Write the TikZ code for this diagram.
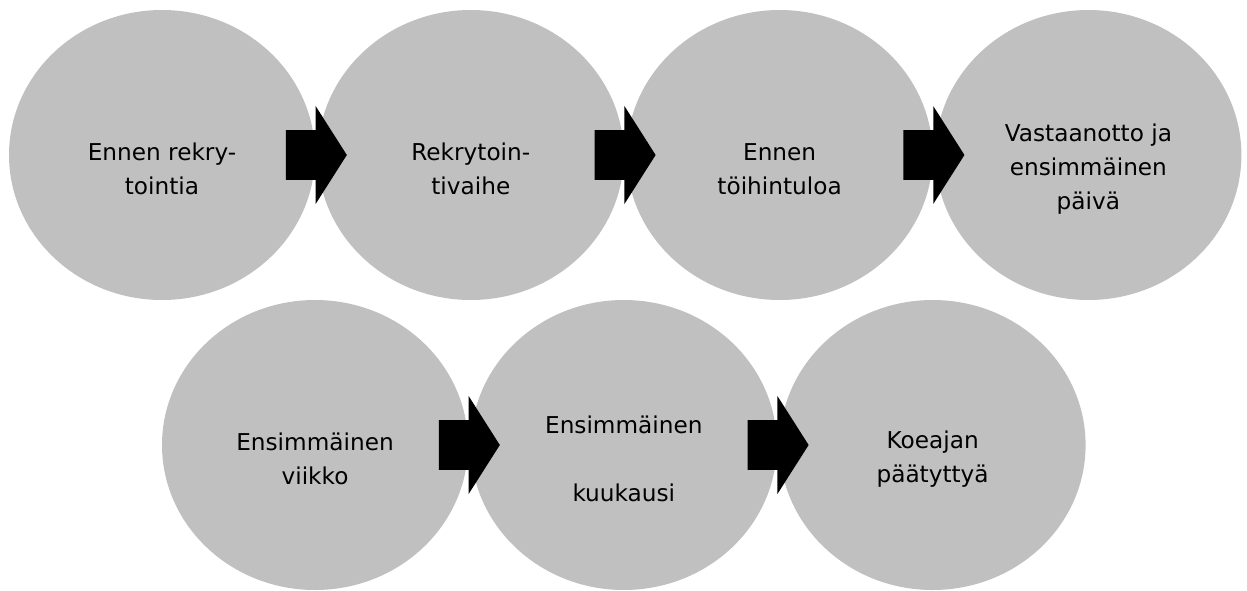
\documentclass[tikz,border=0pt]{standalone}
\usepackage{fontspec}
\setmainfont{DejaVu Sans}
\usetikzlibrary{shapes,arrows,positioning}
\definecolor{phasegray}{RGB}{192,192,192}
\tikzset{
  phasecircle/.style={ellipse, fill=phasegray, minimum width=153pt,
                      minimum height=145pt, inner sep=0pt},
  phasetext/.style={align=center, font=\fontsize{11.6}{17}\selectfont},
  phasearrow/.style={single arrow, fill=black, inner xsep=0pt,
                     inner ysep=12.25pt, xshift=-3.5pt,
                     minimum height=30.5pt, minimum width=48.5pt,
                     single arrow head extend=12pt,
                     single arrow tip angle=115},
  node distance=1pt
}
\newcommand{\phaselabel}[2]{
  \node[phasetext] (#1-label) at ([yshift=-7pt]#1.center) {#2};
}

\begin{document}
\begin{tikzpicture}[x=0.5pt,y=-0.5pt]
	\useasboundingbox (0,0) rectangle (1247,590);
	% top row
	\node[phasecircle] (before) at (162,155) {};
	\node[phasecircle, right=of before] (recruit) {};
	\node[phasecircle, right=of recruit] (prestart) {};
	\node[phasecircle, right=of prestart] (firstday) {};
	% bottom row
	\node[phasecircle] (week) at (315,445) {};
	\node[phasecircle, right=of week] (month) {};
	\node[phasecircle, right=of month] (trial) {};
	\phaselabel{before}{Ennen rekry-\\tointia}
	\phaselabel{recruit}{Rekrytoin-\\tivaihe}
	\phaselabel{prestart}{Ennen\\töihintuloa}
	\phaselabel{firstday}{Vastaanotto ja\\ensimmäinen\\päivä}
	\phaselabel{week}{Ensimmäinen\\viikko}
	\phaselabel{month}{Ensimmäinen\\[17pt]kuukausi}
	\phaselabel{trial}{Koeajan\\päätyttyä}
	% arrows between phases
	\node[phasearrow] (a1) at (before.east) {};
	\node[phasearrow] (a2) at (recruit.east) {};
	\node[phasearrow] (a3) at (prestart.east) {};
	\node[phasearrow] (a5) at (week.east) {};
	\node[phasearrow] (a6) at (month.east) {};
\end{tikzpicture}
\end{document}
